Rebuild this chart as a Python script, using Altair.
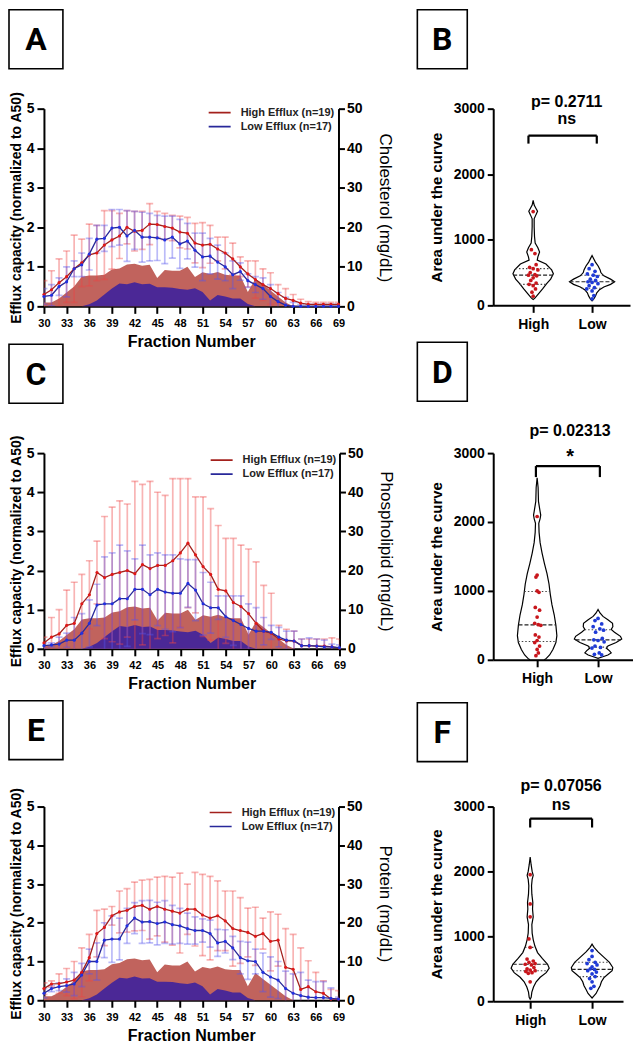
import altair as alt
import pandas as pd

FONT = "Liberation Sans"
NARROW = "Liberation Sans Narrow, Liberation Sans"
HIGH_LBL = "High Efflux (n=19)"
LOW_LBL = "Low Efflux (n=17)"

# ---------------- fraction profiles ----------------
fractions = list(range(30, 70))

# background lipid/protein profile areas (mg/dL, right axis)
area_high = [1.0, 1.0, 2.0, 3.5, 5.0, 7.5, 7.8, 7.8, 8.0, 9.3,
             9.6, 10.6, 10.8, 10.3, 10.5, 7.2, 9.2, 9.0, 9.0, 10.0,
             7.4, 8.6, 8.2, 8.7, 8.0, 7.8, 7.8, 3.6, 7.0, 5.5,
             4.0, 2.5, 1.0, 0.0, 0.0, 0.0, 0.0, 0.0, 0.0, 0.0]
area_low = [0.0, 0.0, 0.0, 0.0, 0.0, 0.0, 0.5, 1.5, 3.0, 4.5,
            5.8, 5.6, 6.1, 5.6, 5.7, 4.8, 4.8, 4.7, 4.4, 4.2,
            4.6, 3.6, 1.5, 2.9, 2.5, 2.0, 2.0, 0.6, 0.0, 0.0,
            0.0, 0.0, 0.0, 0.0, 0.0, 0.0, 0.0, 0.0, 0.0, 0.0]

# Panel A (cholesterol)
A_high_mean = [0.30, 0.42, 0.60, 0.75, 0.95, 1.10, 1.30, 1.35, 1.55, 1.68,
               1.78, 2.00, 1.90, 1.92, 2.08, 2.07, 2.02, 1.98, 1.88, 1.85,
               1.60, 1.55, 1.57, 1.45, 1.35, 1.20, 1.00, 0.82, 0.68, 0.55,
               0.45, 0.32, 0.20, 0.15, 0.08, 0.05, 0.05, 0.05, 0.05, 0.05]
A_high_sd = [0.35, 0.48, 0.60, 0.65, 0.85, 0.60, 0.78, 0.70, 0.87, 0.74,
             0.57, 0.42, 0.50, 0.48, 0.52, 0.33, 0.33, 0.32, 0.40, 0.40,
             0.50, 0.57, 0.48, 0.30, 0.40, 0.40, 0.25, 0.33, 0.47, 0.40,
             0.40, 0.23, 0.25, 0.15, 0.10, 0.07, 0.05, 0.05, 0.05, 0.05]
A_low_mean = [0.25, 0.28, 0.50, 0.62, 0.95, 1.05, 1.32, 1.70, 1.72, 1.98,
              2.00, 1.78, 1.92, 1.75, 1.75, 1.73, 1.68, 1.75, 1.58, 1.65,
              1.42, 1.25, 1.27, 1.12, 1.00, 0.80, 0.88, 0.65, 0.55, 0.45,
              0.25, 0.12, 0.03, 0.00, 0.00, 0.00, 0.00, 0.00, 0.00, 0.00]
A_low_sd = [0.20, 0.27, 0.22, 0.38, 0.20, 0.30, 0.40, 0.35, 0.33, 0.47,
            0.45, 0.64, 0.48, 0.63, 0.60, 0.57, 0.60, 0.53, 0.62, 0.45,
            0.43, 0.60, 0.45, 0.43, 0.35, 0.35, 0.22, 0.17, 0.20, 0.27,
            0.30, 0.23, 0.20, 0.10, 0.05, 0.05, 0.05, 0.05, 0.05, 0.05]

# Panel C (phospholipid)
C_high_mean = [0.15, 0.30, 0.38, 0.60, 0.65, 1.15, 1.38, 1.95, 1.82, 1.90,
               1.95, 2.00, 1.92, 2.15, 2.05, 2.13, 2.13, 2.25, 2.45, 2.70,
               2.40, 2.10, 1.90, 1.52, 1.48, 1.18, 1.08, 0.90, 0.65, 0.45,
               0.40, 0.25, 0.20, 0.20, 0.08, 0.08, 0.07, 0.07, 0.05, 0.02]
C_high_sd = [0.15, 0.50, 0.62, 0.90, 1.05, 0.75, 0.87, 0.80, 1.56, 1.72,
             1.83, 1.70, 2.36, 2.05, 2.23, 1.87, 1.79, 2.10, 1.90, 1.65,
             1.48, 1.78, 1.68, 1.63, 1.34, 1.64, 1.57, 1.65, 1.57, 1.17,
             1.02, 0.35, 0.30, 0.25, 0.17, 0.17, 0.18, 0.18, 0.23, 0.23]
C_low_mean = [0.08, 0.10, 0.12, 0.22, 0.22, 0.40, 0.65, 1.12, 1.15, 1.15,
              1.28, 1.28, 1.52, 1.52, 1.38, 1.52, 1.45, 1.42, 1.42, 1.67,
              1.50, 1.15, 1.05, 1.05, 0.82, 0.72, 0.62, 0.52, 0.45, 0.45,
              0.42, 0.30, 0.22, 0.20, 0.08, 0.08, 0.07, 0.05, 0.05, 0.03]
C_low_sd = [0.07, 0.05, 0.18, 0.18, 0.58, 0.50, 0.60, 0.53, 1.20, 1.30,
            1.37, 1.22, 0.78, 1.13, 1.02, 0.93, 0.95, 0.98, 0.88, 0.61,
            0.78, 0.80, 0.65, 0.30, 0.53, 0.63, 0.73, 0.63, 0.60, 0.35,
            0.18, 0.25, 0.23, 0.25, 0.17, 0.20, 0.18, 0.17, 0.07, 0.07]

# Panel E (protein)
E_high_mean = [0.30, 0.42, 0.43, 0.47, 0.52, 0.72, 1.10, 1.72, 1.88, 2.18,
               2.28, 2.32, 2.42, 2.45, 2.35, 2.42, 2.35, 2.30, 2.25, 2.35,
               2.35, 2.20, 2.12, 2.18, 2.05, 1.85, 1.80, 1.75, 1.65, 1.72,
               1.52, 1.55, 0.85, 0.80, 0.28, 0.35, 0.22, 0.18, 0.03, 0.03]
E_high_sd = [0.15, 0.08, 0.25, 0.35, 0.48, 0.63, 0.60, 0.60, 0.47, 0.24,
             0.54, 0.56, 0.63, 0.65, 0.77, 0.76, 0.85, 0.88, 1.03, 0.65,
             0.95, 1.05, 1.08, 0.90, 0.77, 0.97, 0.85, 0.63, 0.75, 0.40,
             0.76, 0.67, 1.00, 0.90, 1.07, 0.67, 0.50, 0.32, 0.25, 0.22]
E_low_mean = [0.18, 0.30, 0.35, 0.38, 0.42, 0.65, 1.00, 1.00, 1.55, 1.58,
              1.58, 1.92, 2.12, 2.02, 2.03, 1.98, 2.02, 1.95, 1.92, 1.85,
              1.80, 1.80, 1.72, 1.48, 1.52, 1.35, 1.10, 1.02, 1.00, 0.72,
              0.60, 0.52, 0.30, 0.18, 0.12, 0.08, 0.07, 0.07, 0.05, 0.03]
E_low_sd = [0.12, 0.08, 0.10, 0.17, 0.30, 0.30, 0.32, 0.48, 0.45, 0.60,
            0.54, 0.45, 0.40, 0.55, 0.55, 0.55, 0.55, 0.50, 0.45, 0.40,
            0.35, 0.30, 0.35, 0.35, 0.30, 0.30, 0.42, 0.48, 0.32, 0.50,
            0.52, 0.48, 0.45, 0.50, 0.60, 0.44, 0.41, 0.41, 0.27, 0.05]

# ---------------- violin data (area under the curve) ----------------
B_high_pts = [1430, 850, 790, 620, 580, 560, 540, 500, 470, 460, 450, 420, 380, 340, 320, 300, 250, 200, 140]
B_high_jit = [0.0, -0.03, 0.03, 0.05, -0.06, 0.0, 0.08, -0.05, 0.03, -0.08, 0.06, 0.0, -0.04, 0.05, -0.07, 0.0, 0.04, -0.02, 0.0]
B_low_pts = [620, 560, 520, 480, 460, 440, 400, 380, 360, 350, 330, 300, 270, 250, 220, 150, 100]
B_low_jit = [0.0, -0.05, 0.05, -0.08, 0.02, 0.09, -0.03, 0.06, -0.07, 0.0, 0.1, -0.05, 0.04, -0.09, 0.0, 0.03, 0.0]
B_high_outline_v = [1600, 1530, 1480, 1434, 1380, 1320, 1200, 1050, 950, 880, 813, 740, 690, 630, 540, 483, 400, 330, 250, 170, 110, 90]
B_high_outline_w = [0, 0.017, 0.046, 0.074, 0.046, 0.017, 0.017, 0.023, 0.034, 0.08, 0.109, 0.08, 0.069, 0.217, 0.314, 0.343, 0.297, 0.229, 0.16, 0.086, 0.029, 0]
B_low_outline_v = [760, 720, 660, 600, 540, 500, 450, 400, 360, 320, 280, 240, 190, 140, 100, 70]
B_low_outline_w = [0, 0.023, 0.057, 0.103, 0.137, 0.149, 0.2, 0.314, 0.383, 0.314, 0.2, 0.126, 0.08, 0.057, 0.029, 0]
B_quart_v = [320, 460, 560, 260, 360, 460]
B_quart_w = [0.229, 0.34, 0.30, 0.175, 0.383, 0.19]

D_high_pts = [2080, 1230, 1200, 1000, 980, 760, 720, 620, 530, 510, 500, 360, 330, 280, 250, 200, 150, 100, 60]
D_high_jit = [0.0, 0.0, -0.02, 0.0, 0.03, -0.03, 0.04, 0.0, -0.04, 0.02, 0.06, -0.03, 0.03, 0.0, -0.04, 0.04, 0.0, 0.02, -0.02]
D_low_pts = [600, 570, 520, 480, 450, 430, 400, 310, 290, 280, 260, 200, 180, 170, 100, 80, 70]
D_low_jit = [0.0, -0.05, 0.06, -0.08, 0.03, 0.09, -0.04, 0.07, -0.07, 0.0, 0.1, -0.05, 0.04, -0.1, 0.02, -0.06, 0.06]
D_high_outline_v = [2640, 2500, 2300, 2150, 2100, 2050, 1980, 1850, 1700, 1550, 1400, 1250, 1100, 950, 800, 650, 500, 350, 250, 150, 70, 20, 0]
D_high_outline_w = [0, 0.016, 0.022, 0.049, 0.059, 0.049, 0.027, 0.032, 0.049, 0.081, 0.119, 0.162, 0.195, 0.216, 0.243, 0.281, 0.308, 0.324, 0.308, 0.259, 0.205, 0.151, 0.119]
D_low_outline_v = [730, 680, 630, 580, 530, 480, 440, 400, 340, 300, 250, 200, 170, 130, 100, 70, 40, 20]
D_low_outline_w = [0, 0.032, 0.081, 0.162, 0.238, 0.243, 0.216, 0.27, 0.368, 0.389, 0.297, 0.162, 0.135, 0.189, 0.216, 0.162, 0.065, 0]
D_quart_v = [266, 508, 992, 184, 290, 435]
D_quart_w = [0.31, 0.306, 0.21, 0.155, 0.37, 0.22]

F_high_pts = [1950, 1500, 1300, 960, 830, 650, 620, 600, 580, 570, 560, 520, 500, 480, 470, 460, 440, 430, 300]
F_high_jit = [0.0, 0.0, 0.0, -0.02, 0.0, -0.05, 0.05, -0.02, 0.08, -0.08, 0.02, 0.06, -0.05, 0.0, 0.08, -0.07, 0.03, -0.03, 0.0]
F_low_pts = [780, 690, 640, 600, 580, 560, 530, 500, 490, 470, 450, 420, 380, 350, 300, 230, 200]
F_low_jit = [0.0, 0.0, -0.05, 0.05, -0.08, 0.08, 0.0, -0.03, 0.04, -0.07, 0.07, 0.0, 0.05, -0.04, 0.0, 0.03, -0.02]
F_high_outline_v = [2220, 2100, 2000, 1940, 1880, 1780, 1650, 1520, 1420, 1300, 1180, 1050, 950, 850, 750, 660, 570, 510, 440, 370, 300, 220, 140, 60, 30]
F_high_outline_w = [0, 0.016, 0.032, 0.049, 0.032, 0.022, 0.027, 0.043, 0.038, 0.049, 0.027, 0.032, 0.049, 0.076, 0.119, 0.195, 0.281, 0.308, 0.259, 0.162, 0.097, 0.054, 0.027, 0.016, 0]
F_low_outline_v = [880, 830, 760, 680, 600, 520, 470, 420, 360, 300, 240, 180, 120, 80, 50]
F_low_outline_w = [0, 0.032, 0.097, 0.189, 0.281, 0.335, 0.324, 0.259, 0.189, 0.151, 0.13, 0.097, 0.065, 0.027, 0]
F_quart_v = [470, 570, 830, 380, 490, 600]
F_quart_w = [0.28, 0.281, 0.085, 0.21, 0.33, 0.281]

quart_grp = ["High", "High", "High", "Low", "Low", "Low"]
quart_kind = ["q", "med", "q", "q", "med", "q"]
group_center = {"High": 1, "Low": 2}


def letter_box(letter, x0, x1, y0, y1):
    d = pd.DataFrame({"letter": [letter]})
    rect = alt.Chart(d).mark_rect(fill="white", stroke="black", strokeWidth=1.6).encode(
        x=alt.value(x0), x2=alt.value(x1), y=alt.value(y0), y2=alt.value(y1))
    txt = alt.Chart(d).mark_text(font="Roboto", fontWeight="bold", fontSize=32, color="black",
                                 align="center", baseline="middle").encode(
        text="letter:N", x=alt.value((x0 + x1) / 2), y=alt.value((y0 + y1) / 2 + 1))
    return [rect, txt]


def left_panel(hm, hs, lm, ls, conc_title, letter, width, height, leg_x, leg_y, box_y):
    eff = pd.DataFrame({
        "fraction": fractions * 2,
        "series": [HIGH_LBL] * len(fractions) + [LOW_LBL] * len(fractions),
        "mean": hm + lm,
        "sd": hs + ls,
    })
    conc = pd.DataFrame({
        "fraction": fractions * 2,
        "grp": ["high"] * len(fractions) + ["low"] * len(fractions),
        "conc": area_high + area_low,
    })
    xs = alt.Scale(domain=[30, 69], nice=False, zero=False)
    x_axis = alt.Axis(values=list(range(30, 70, 3)), title="Fraction Number", titleFont=FONT,
                      titleFontSize=16, titleFontWeight="bold", titlePadding=5,
                      labelFont=NARROW, labelFontSize=11, labelFontWeight="bold", labelPadding=4,
                      tickSize=7, labelFlush=False, labelOverlap=False)
    X = alt.X("fraction:Q", scale=xs, axis=x_axis)
    yl_scale = alt.Scale(domain=[0, 5], nice=False)
    yl_axis = alt.Axis(orient="left", values=[0, 1, 2, 3, 4, 5], title="Efflux capacity (normalized to A50)",
                       titleFont=FONT, titleFontSize=14, titleFontWeight="bold", titlePadding=3,
                       labelFont=FONT, labelFontSize=14, labelFontWeight="bold", labelPadding=3, tickSize=7)

    def YL(f):
        return alt.Y(f"{f}:Q", scale=yl_scale, axis=yl_axis)

    yr = alt.Y("conc:Q", stack=None, scale=alt.Scale(domain=[0, 50], nice=False),
               axis=alt.Axis(orient="right", values=[0, 10, 20, 30, 40, 50], title=conc_title,
                             titleFont=FONT, titleFontSize=17, titleFontWeight="normal", titlePadding=14,
                             labelFont=FONT, labelFontSize=14, labelFontWeight="bold", labelPadding=2,
                             tickSize=6))
    base_c = alt.Chart(conc).encode(x=X, y=yr)
    a_h = base_c.transform_filter("datum.grp == 'high'").mark_area(color="#c1635d", opacity=1)
    a_l = base_c.transform_filter("datum.grp == 'low'").mark_area(color="#4b2896", opacity=1)
    areas = alt.layer(a_h, a_l)

    base_e = alt.Chart(eff).transform_calculate(lo="datum.mean - datum.sd", hi="datum.mean + datum.sd")
    layers = []
    for lbl, col in ((HIGH_LBL, "#ee4444"), (LOW_LBL, "#5555ee")):
        b = base_e.transform_filter(alt.datum.series == lbl)
        layers.append(b.mark_rule(color=col, opacity=0.4, strokeWidth=1.7, clip=True).encode(
            x=X, y=YL("lo"), y2="hi:Q"))
        for end in ("hi", "lo"):
            layers.append(b.mark_rule(color=col, opacity=0.4, strokeWidth=1.7, clip=True,
                                      xOffset=-3.5, x2Offset=3.5).encode(
                x=X, x2="fraction:Q", y=YL(end)))
    line = base_e.mark_line(strokeWidth=1.3).encode(
        x=X, y=YL("mean"),
        color=alt.Color("series:N",
                        scale=alt.Scale(domain=[HIGH_LBL, LOW_LBL], range=["#a3201c", "#28289a"]),
                        legend=alt.Legend(title=None, orient="none", legendX=leg_x, legendY=leg_y,
                                          symbolType="stroke", symbolSize=484, symbolStrokeWidth=1.6,
                                          labelFont=FONT, labelFontSize=11, labelFontWeight="bold",
                                          labelColor="#222222", labelOffset=9, clipHeight=14,
                                          rowPadding=0, padding=0)))
    layers.append(line)
    layers.append(base_e.transform_filter(alt.datum.series == HIGH_LBL).mark_circle(
        size=10, color="#e01818", opacity=1).encode(x=X, y=YL("mean")))
    layers.append(base_e.transform_filter(alt.datum.series == LOW_LBL).mark_circle(
        size=10, color="#2030e0", opacity=1).encode(x=X, y=YL("mean")))
    effl = alt.layer(*layers)
    deco = letter_box(letter, -35, 19, box_y, box_y + 59)
    return alt.layer(areas, effl, *deco).resolve_scale(y="independent").properties(width=width, height=height)


def violin_panel(hv, hw, lv, lw, hp, hj, lp, lj, qv, qw, letter, ptxt, sig, ys_text, bracket,
                 text_x, dom, width, height, box_y, sig_size):
    rows = []
    for v, w in zip(hv, hw):
        rows.append({"grp": "High", "center": 1, "value": v, "half": w})
    for v, w in zip(lv, lw):
        rows.append({"grp": "Low", "center": 2, "value": v, "half": w})
    outline = pd.DataFrame(rows)
    pts = pd.DataFrame({
        "grp": ["High"] * len(hp) + ["Low"] * len(lp),
        "center": [1] * len(hp) + [2] * len(lp),
        "value": hp + lp,
        "jit": hj + lj,
    })
    quart = pd.DataFrame({
        "grp": quart_grp,
        "center": [group_center[g] for g in quart_grp],
        "value": qv,
        "half": qw,
        "kind": quart_kind,
    })
    xl, xr, yt, yb = bracket
    br = pd.DataFrame({"bx": [xl, xl, xr], "bx2": [xr, xl, xr], "by": [yt, yt, yt], "by2": [yt, yb, yb]})
    txt = pd.DataFrame({"tx": [text_x, text_x], "ty": ys_text, "label": [ptxt, sig],
                        "size": [16, sig_size]})

    xs = alt.Scale(domain=dom, nice=False, zero=False)
    x_axis = alt.Axis(values=[1, 2], labelExpr="datum.value == 1 ? 'High' : 'Low'", title=None,
                      labelFont=FONT, labelFontSize=14, labelFontWeight="bold", labelPadding=5,
                      tickSize=7, labelFlush=False, labelOverlap=False)
    ys = alt.Scale(domain=[0, 3000], nice=False)
    y_axis = alt.Axis(values=[0, 1000, 2000, 3000], format="d", title="Area under the curve",
                      titleFont=FONT, titleFontSize=15, titleFontWeight="bold", titlePadding=9,
                      labelFont=FONT, labelFontSize=14, labelFontWeight="bold", labelPadding=3,
                      tickSize=6, labelOverlap=False)

    def XX(f):
        return alt.X(f"{f}:Q", scale=xs, axis=x_axis)

    def YY(f):
        return alt.Y(f"{f}:Q", scale=ys, axis=y_axis)

    layers = []
    ob = alt.Chart(outline).transform_calculate(left="datum.center - datum.half",
                                                right="datum.center + datum.half")
    for g in ("High", "Low"):
        layers.append(ob.transform_filter(alt.datum.grp == g).mark_area(
            orient="horizontal", fill="white", stroke="black", strokeWidth=1.2).encode(
            y=YY("value"), x=XX("left"), x2="right:Q"))
    qb = alt.Chart(quart).transform_calculate(ql="datum.center - datum.half",
                                              qr="datum.center + datum.half")
    layers.append(qb.transform_filter("datum.kind == 'med'").mark_rule(
        color="#222222", strokeWidth=1.2, strokeDash=[4, 2]).encode(x=XX("ql"), x2="qr:Q", y=YY("value")))
    layers.append(qb.transform_filter("datum.kind == 'q'").mark_rule(
        color="#444444", strokeWidth=1.1, strokeDash=[1.5, 2]).encode(x=XX("ql"), x2="qr:Q", y=YY("value")))
    pb = alt.Chart(pts).transform_calculate(px="datum.center + datum.jit")
    layers.append(pb.transform_filter(alt.datum.grp == "High").mark_circle(
        size=14, color="#c8161c", opacity=1).encode(x=XX("px"), y=YY("value")))
    layers.append(pb.transform_filter(alt.datum.grp == "Low").mark_circle(
        size=14, color="#1f3bd6", opacity=1).encode(x=XX("px"), y=YY("value")))
    layers.append(alt.Chart(br).mark_rule(color="black", strokeWidth=2.2).encode(
        x=XX("bx"), x2="bx2:Q", y=YY("by"), y2="by2:Q"))
    layers.append(alt.Chart(txt).mark_text(font=FONT, fontWeight="bold", color="black",
                                           align="center", baseline="middle").encode(
        x=XX("tx"), y=YY("ty"), text="label:N", size=alt.Size("size:Q", scale=None, legend=None)))
    layers += letter_box(letter, -76, -26, box_y, box_y + 59)
    return alt.layer(*layers).properties(width=width, height=height)


A = left_panel(A_high_mean, A_high_sd, A_low_mean, A_low_sd, "Cholesterol (mg/dL)", "A",
               295, 198, 164, -3, -99)
B = violin_panel(B_high_outline_v, B_high_outline_w, B_low_outline_v, B_low_outline_w,
                 B_high_pts, B_high_jit, B_low_pts, B_low_jit, B_quart_v, B_quart_w,
                 "B", "p= 0.2711", "ns", [3107, 2848], [0.92, 2.08, 2589, 2467],
                 1.57, [0.322, 2.644], 137, 197, -99, 16)
C = left_panel(C_high_mean, C_high_sd, C_low_mean, C_low_sd, "Phospholipid (mg/dL)", "C",
               296, 196, 166, 0, -109)
D = violin_panel(D_high_outline_v, D_high_outline_w, D_low_outline_v, D_low_outline_w,
                 D_high_pts, D_high_jit, D_low_pts, D_low_jit, D_quart_v, D_quart_w,
                 "D", "p= 0.02313", "*", [3319, 2950], [0.98, 2.03, 2812, 2652],
                 1.54, [0.279, 2.574], 140, 207, -111, 20)
E = left_panel(E_high_mean, E_high_sd, E_low_mean, E_low_sd, "Protein (mg/dL)", "E",
               295, 194, 165, -1, -106)
F = violin_panel(F_high_outline_v, F_high_outline_w, F_low_outline_v, F_low_outline_w,
                 F_high_pts, F_high_jit, F_low_pts, F_low_jit, F_quart_v, F_quart_w,
                 "F", "p= 0.07056", "ns", [3323, 3031], [1.0, 2.0, 2815, 2677],
                 1.5, [0.403, 2.5], 130, 195, -104, 16)

chart = alt.concat(
    A, B, C, D, E, F, columns=2, spacing={"row": 147, "column": 154}, bounds="flush", padding=0
).resolve_scale(color="independent").configure_view(stroke=None).configure_axis(
    grid=False, domainColor="black", domainWidth=2, tickColor="black", tickWidth=2,
    labelColor="black", titleColor="black"
).properties(background="white")

chart.save("out.html", embed_options={"renderer": "svg", "actions": False})
